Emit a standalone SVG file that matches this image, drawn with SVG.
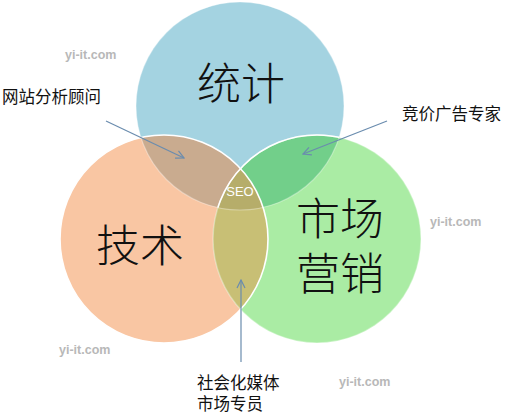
<svg xmlns="http://www.w3.org/2000/svg" width="510" height="414" viewBox="0 0 510 414">
<style>
.big{font-family:"Noto Sans CJK SC","Noto Sans",sans-serif;font-size:44px;fill:#111;font-weight:300}
.lbl{font-family:"Noto Sans CJK SC","Noto Sans",sans-serif;font-size:16.5px;fill:#111}
.wm{font-family:"Liberation Sans",Arial,sans-serif;font-size:12.5px;fill:#b8b8b8;font-weight:bold}
.seo{font-family:"Liberation Sans",Arial,sans-serif;font-size:13px;fill:#fff}
.arr{stroke:#6a8cae;stroke-width:1.2;fill:none}
</style>
<defs>
<clipPath id="cB"><circle cx="240" cy="106" r="104"/></clipPath>
<clipPath id="cO"><circle cx="164" cy="239" r="104"/></clipPath>
<clipPath id="cG"><circle cx="317" cy="239" r="104"/></clipPath>
<marker id="ah" markerWidth="10" markerHeight="10" refX="9" refY="5" orient="auto" markerUnits="userSpaceOnUse">
<path d="M1,1 L9,5 L1,9" fill="none" stroke="#6a8cae" stroke-width="1.2"/>
</marker>
</defs>
<rect width="510" height="414" fill="#fff"/>
<g id="circles">
<g id="node-stats"><circle cx="240" cy="106" r="104" fill="#a4d3e1"/></g>
<g id="node-tech"><circle cx="164" cy="239" r="104" fill="#f9c6a3"/></g>
<g id="node-market"><circle cx="317" cy="239" r="104" fill="#aaeca4"/></g>
<circle cx="164" cy="239" r="104" fill="#c9ab8f" clip-path="url(#cB)"/>
<circle cx="317" cy="239" r="104" fill="#72cf8a" clip-path="url(#cB)"/>
<circle cx="317" cy="239" r="104" fill="#c8bf75" clip-path="url(#cO)"/>
<g clip-path="url(#cB)"><circle cx="317" cy="239" r="104" fill="#b6ad6a" clip-path="url(#cO)"/></g>
<circle cx="240" cy="106" r="104" fill="none" stroke="#fff" stroke-width="1.2" stroke-opacity="0.35"/>
<circle cx="317" cy="239" r="104" fill="none" stroke="#fff" stroke-width="1.5" stroke-opacity="0.35"/>
<circle cx="317" cy="239" r="104" fill="none" stroke="#fff" stroke-width="1.6" clip-path="url(#cB)"/>
<circle cx="164" cy="239" r="104" fill="none" stroke="#fff" stroke-width="1.6"/>
</g>
<g id="titles">
<text class="big" x="241" y="100" text-anchor="middle">统计</text>
<text class="big" x="140" y="262" text-anchor="middle">技术</text>
<text class="big" x="340" y="235" text-anchor="middle">市场</text>
<text class="big" x="340" y="290" text-anchor="middle">营销</text>
<text class="seo" x="240" y="196" text-anchor="middle">SEO</text>
</g>
<g id="connectors">
<line class="arr" x1="106" y1="121" x2="184" y2="158" marker-end="url(#ah)"/>
<line class="arr" x1="387" y1="121" x2="303" y2="154" marker-end="url(#ah)"/>
<line class="arr" x1="241" y1="362" x2="241" y2="280" marker-end="url(#ah)"/>
</g>
<g id="labels">
<text class="lbl" x="2" y="103">网站分析顾问</text>
<text class="lbl" x="402" y="120">竞价广告专家</text>
<text class="lbl" x="197" y="389">社会化媒体</text>
<text class="lbl" x="197" y="410">市场专员</text>
</g>
<g id="watermarks">
<text class="wm" x="65" y="59">yi-it.com</text>
<text class="wm" x="59" y="354">yi-it.com</text>
<text class="wm" x="430" y="226">yi-it.com</text>
<text class="wm" x="339" y="386">yi-it.com</text>
</g>
</svg>
